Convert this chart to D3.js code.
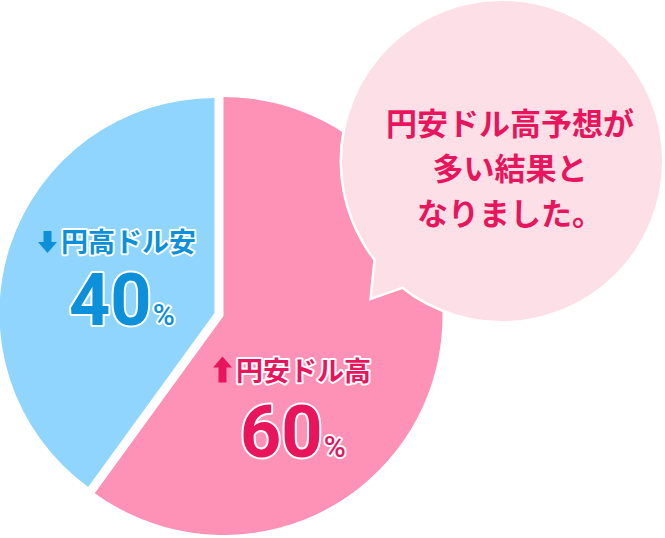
<!DOCTYPE html>
<html><head><meta charset="utf-8">
<script src="https://cdn.jsdelivr.net/npm/d3@7"></script>
<style>
html,body{margin:0;padding:0;background:#fff;}
svg{display:block;}
</style></head>
<body>
<svg id="chart" width="665" height="538"></svg>
<script>
// ---- data ----
const categories = ["円安ドル高", "円高ドル安"];
const values = [60, 40];
const directions = ["up", "down"];
const bubbleLines = ["円安ドル高予想が", "多い結果と", "なりました。"];

// ---- styles / layout ----
const sliceColors = ["#fe91b6", "#8fd5fe"];
const textColors = ["#e8155d", "#0b90d9"];
const sliceCenters = [[223.5, 316], [214.5, 313]];
const sliceRadii = [219, 215];
const labelPos = [ {x:213, y:369.5, nx:240, ny:457}, {x:38, y:240, nx:69, ny:325} ];

const svg = d3.select("#chart");

const pie = d3.pie().sort(null).value(d => d).startAngle(0).endAngle(2*Math.PI);
const arcs = pie(values);

arcs.forEach((a, i) => {
  const arc = d3.arc().innerRadius(0).outerRadius(sliceRadii[i]);
  svg.append("path")
    .attr("transform", `translate(${sliceCenters[i][0]},${sliceCenters[i][1]})`)
    .attr("d", arc(a))
    .attr("fill", sliceColors[i]);
});

// labels
arcs.forEach((a, i) => {
  const p = labelPos[i];
  const g = svg.append("g");
  const w = 19, h = (directions[i] === "up") ? 26 : 22, sw = 8, hh = 11;
  let pts;
  if (directions[i] === "up") {
    const top = p.y - h/2;
    pts = [[p.x + w/2, top], [p.x + w, top + hh], [p.x + w/2 + sw/2, top + hh], [p.x + w/2 + sw/2, top + h],
           [p.x + w/2 - sw/2, top + h], [p.x + w/2 - sw/2, top + hh], [p.x, top + hh]];
  } else {
    const top = p.y - h/2 + 2;
    const bot = top + h;
    pts = [[p.x + w/2, bot], [p.x + w, bot - hh], [p.x + w/2 + sw/2, bot - hh], [p.x + w/2 + sw/2, top],
           [p.x + w/2 - sw/2, top], [p.x + w/2 - sw/2, bot - hh], [p.x, bot - hh]];
  }
  g.append("polygon").attr("points", pts.map(d => d.join(",")).join(" "))
    .attr("fill", textColors[i]);
  g.append("text")
    .attr("x", p.x + 23).attr("y", p.y)
    .attr("dominant-baseline", "central")
    .attr("font-family", "'Noto Sans CJK JP'")
    .attr("font-weight", 700)
    .attr("font-size", 27)
    .attr("fill", textColors[i])
    .attr("stroke", "#fff").attr("stroke-width", 4).attr("paint-order", "stroke")
    .attr("stroke-linejoin", "round")
    .text(categories[i]);
  const t = g.append("text")
    .attr("x", p.nx).attr("y", p.ny)
    .attr("font-family", "Roboto")
    .attr("fill", textColors[i])
    .attr("stroke", "#fff").attr("stroke-width", 4).attr("paint-order", "stroke")
    .attr("stroke-linejoin", "round");
  t.append("tspan").attr("font-size", 72).attr("font-weight", 700).text(a.data);
  t.append("tspan").attr("font-size", 30).attr("font-weight", 500).attr("dx", 1).text("%");
});

// speech bubble
const bc = [502, 161], br = 160;
const tail = [[376, 258], [372, 297], [404, 286], [430, 250]];
const bubble = svg.append("g");
bubble.append("circle").attr("cx", bc[0]).attr("cy", bc[1]).attr("r", br)
  .attr("fill", "#fff").attr("stroke", "#fff").attr("stroke-width", 5);
bubble.append("polygon").attr("points", tail.map(d => d.join(",")).join(" "))
  .attr("fill", "#fff").attr("stroke", "#fff").attr("stroke-width", 5).attr("stroke-linejoin", "miter");
bubble.append("circle").attr("cx", bc[0]).attr("cy", bc[1]).attr("r", br)
  .attr("fill", "#fde0e7");
bubble.append("polygon").attr("points", tail.map(d => d.join(",")).join(" "))
  .attr("fill", "#fde0e7");

const lineY = [121, 166, 211];
bubbleLines.forEach((s, i) => {
  bubble.append("text")
    .attr("x", 510).attr("y", lineY[i])
    .attr("text-anchor", "middle")
    .attr("dominant-baseline", "central")
    .attr("font-family", "'Noto Sans CJK JP'")
    .attr("font-weight", 700)
    .attr("font-size", 31)
    .attr("fill", "#e8155d")
    .text(s);
});
</script>
</body></html>
